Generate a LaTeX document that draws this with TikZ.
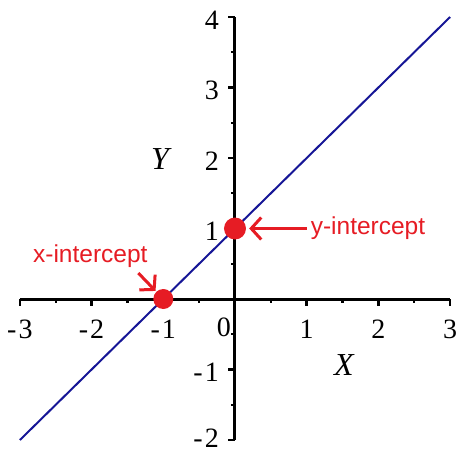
\documentclass[tikz,border=0pt]{standalone}
\usepackage{fontspec}
\setmainfont{Liberation Serif}
\newfontfamily\labsans{Liberation Sans}
\usetikzlibrary{arrows.meta}
\definecolor{dotred}{RGB}{230,28,36}
\definecolor{linenavy}{RGB}{22,22,150}
\begin{document}
\begin{tikzpicture}[x=71.7pt,y=70.5pt,
  axisline/.style={line width=3pt},
  majortick/.style={line width=2.6pt},
  minortick/.style={line width=2.4pt},
  ticklab/.style={inner sep=0pt,font=\fontsize{28}{30}\selectfont},
  axislab/.style={inner sep=0pt,font=\fontsize{32}{34}\selectfont\itshape},
  dot/.style={circle,fill=dotred,inner sep=0pt},
  redlab/.style={inner sep=0pt,text=dotred,font=\labsans\fontsize{24.5}{26}\selectfont},
  redarrow/.style={draw=dotred,line width=3pt,-{Straight Barb[length=10pt,width=22pt]}}]
\useasboundingbox (-3.2775,-2.1702) rectangle (3.1241,4.2411);
% ticks
\foreach \x in {-3,...,3} \draw[majortick] (\x,0) -- ++(0,-7pt);
\foreach \x in {-2.5,-1.5,-0.5,0.5,1.5,2.5} \draw[minortick] (\x,0) -- ++(0,-4pt);
\foreach \y in {-2,...,4} \draw[majortick] (0,\y) -- ++(-7pt,0);
\foreach \y in {-1.5,-0.5,0.5,1.5,2.5,3.5} \draw[minortick] (0,\y) -- ++(-4pt,0);
% axes
\draw[axisline] (-3,0) -- (3,0);
\draw[axisline] (0,-2) -- (0,4);
% tick labels
\foreach \x in {-3,-2,-1}
  \node[ticklab] (xl\x) at ([yshift=-30pt]\x,0) {-\kern2pt\number-\x};
\foreach \x in {1,2,3}
  \node[ticklab] (xl\x) at ([yshift=-30pt]\x,0) {\x};
\node[ticklab] (xl0) at ([xshift=-11pt,yshift=-28pt]0,0) {0};
\foreach \y in {1,2,3,4}
  \node[ticklab,anchor=east] (yl\y) at ([xshift=-16pt,yshift=-3pt]0,\y) {\y};
\node[ticklab,anchor=east] (yl-1) at ([xshift=-16pt,yshift=-3pt]0,-1) {-\kern2pt1};
\node[ticklab,anchor=east] (yl-2) at ([xshift=-16pt,yshift=2pt]0,-2) {-\kern2pt2};
% axis labels
\node[axislab] (ylab) at ([xshift=-75pt,yshift=-1pt]0,2) {Y};
\node[axislab] (xlab) at ([xshift=109pt,yshift=-66pt]0,0) {X};
% line
\draw[linenavy,line width=2pt] (-3,-2) -- (3,4);
% intercept dots
\node[dot,minimum size=22pt] (ydot) at (0,1) {};
\node[dot,minimum size=20pt] (xdot) at (-1,0) {};
% labels and arrows
\node[redlab] (ytext) at ([xshift=133pt]0,1) {y-intercept};
\node[redlab] (xtext) at ([xshift=-73pt,yshift=43pt]-1,0) {x-intercept};
\draw[redarrow,shorten <=4pt,shorten >=3pt] (ytext.west) -- (ydot.east);
\coordinate (xtail) at ([xshift=-25pt,yshift=26pt]xdot.center);
\draw[redarrow,shorten >=1pt] (xtail) -- (xdot);
\end{tikzpicture}
\end{document}
